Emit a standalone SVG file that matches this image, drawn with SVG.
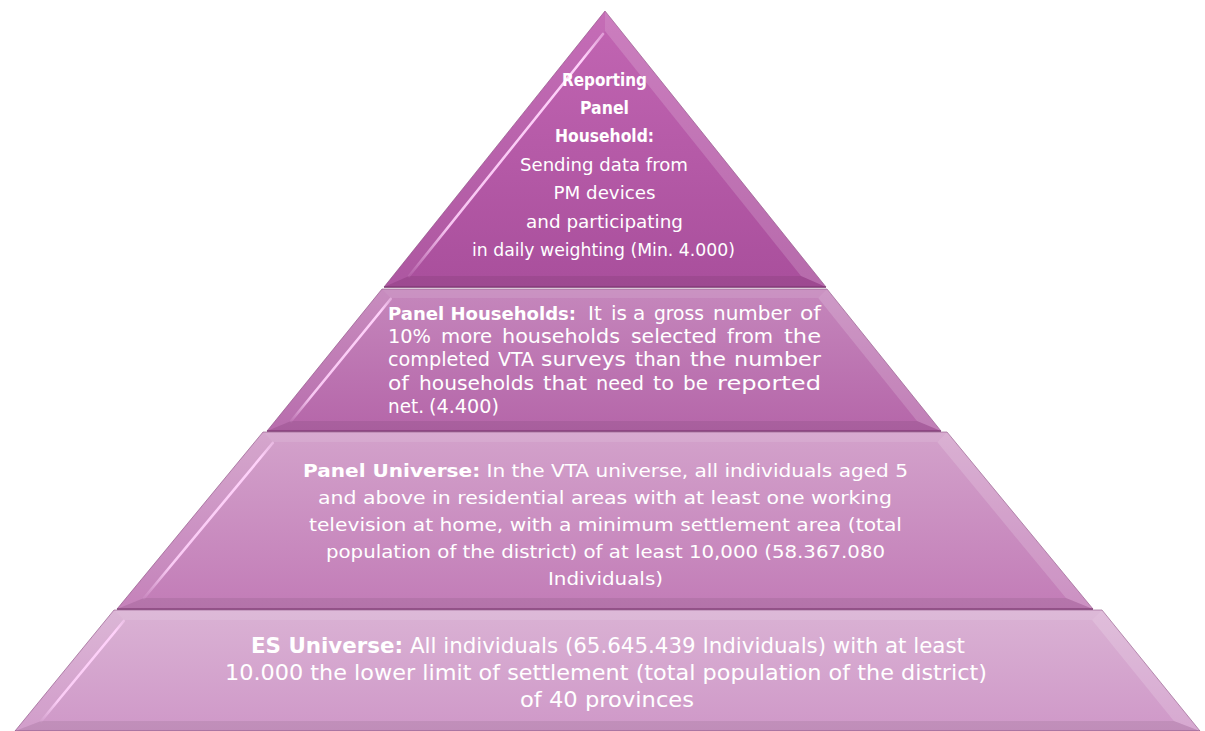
<svg xmlns="http://www.w3.org/2000/svg" width="1205" height="731" viewBox="0 0 1205 731">
  <style>
    .face { stroke: #7d3a73; stroke-opacity: 0.55; stroke-width: 1; stroke-linejoin: round; }
    .f-left { fill: #ffffff; fill-opacity: 0.05; }
    .f-right { fill: #ffffff; fill-opacity: 0.16; }
    .f-top { fill: #ffffff; fill-opacity: 0.10; }
    .f-bottom { fill: #000000; fill-opacity: 0.07; }
    .hl { stroke: url(#hlGrad); stroke-width: 2.6; stroke-linecap: round; fill: none; }
    .base { stroke: #7a3470; stroke-opacity: 0.7; stroke-width: 1.4; }
    text { font-family: "DejaVu Sans", "Liberation Sans", sans-serif; fill: #ffffff; }
    .b { font-weight: bold; }
    .t1 { font-size: 18.5px; }
    .t2 { font-size: 20px; }
    .t2b { font-size: 18px; }
    .t3 { font-size: 18.5px; }
    .t4 { font-size: 20.5px; }
  </style>
  <defs>
    <linearGradient id="g1" x1="0" y1="0" x2="0" y2="1">
      <stop offset="0" stop-color="#c266b3"/>
      <stop offset="1" stop-color="#a94f9c"/>
    </linearGradient>
    <linearGradient id="g2" x1="0" y1="0" x2="0" y2="1">
      <stop offset="0" stop-color="#c587bc"/>
      <stop offset="1" stop-color="#b566a9"/>
    </linearGradient>
    <linearGradient id="g3" x1="0" y1="0" x2="0" y2="1">
      <stop offset="0" stop-color="#d3a2cb"/>
      <stop offset="1" stop-color="#c27cb7"/>
    </linearGradient>
    <linearGradient id="g4" x1="0" y1="0" x2="0" y2="1">
      <stop offset="0" stop-color="#dab2d4"/>
      <stop offset="1" stop-color="#cf98c8"/>
    </linearGradient>
    <!-- glossy streak along the inner left bevel edge -->
    <linearGradient id="hlGrad" x1="0" y1="0" x2="1" y2="0">
      <stop offset="0" stop-color="#ffd2fa" stop-opacity="0.1"/>
      <stop offset="0.2" stop-color="#ffd2fa" stop-opacity="0.9"/>
      <stop offset="0.9" stop-color="#ffd2fa" stop-opacity="1"/>
      <stop offset="1" stop-color="#ffd2fa" stop-opacity="0.5"/>
    </linearGradient>
  </defs>

  <!-- bottom tier -->
  <g id="tier-4">
    <polygon class="face" fill="url(#g4)" points="114,610 1102,610 1200,731 15,731"/>
    <polygon class="f-top" points="114,610 1102,610 1092.1,620 123.8,620"/>
    <polygon class="f-left" points="114,610 123.8,620 41.2,721 15,731"/>
    <polygon class="f-right" points="1102,610 1200,731 1173.9,721 1092.1,620"/>
    <polygon class="f-bottom" points="15,731 41.2,721 1173.9,721 1200,731"/>
    <line class="hl" x1="123.8" y1="621" x2="41.2" y2="721"/>
    <text class="t4" x="608" y="653" text-anchor="middle" textLength="714" lengthAdjust="spacingAndGlyphs"><tspan class="b">ES Universe:</tspan> All individuals (65.645.439 Individuals) with at least</text>
    <text class="t4" x="606" y="680" text-anchor="middle" textLength="762" lengthAdjust="spacingAndGlyphs">10.000 the lower limit of settlement (total population of the district)</text>
    <text class="t4" x="607" y="707" text-anchor="middle" textLength="174" lengthAdjust="spacingAndGlyphs">of 40 provinces</text>
  </g>

  <!-- third tier -->
  <g id="tier-3">
    <polygon class="face" fill="url(#g3)" points="263,432 947,432 1093,609 117,609"/>
    <polygon class="f-top" points="263,432 947,432 937.25,442 272.75,442"/>
    <polygon class="f-left" points="263,432 272.75,442 144.05,598 117,609"/>
    <polygon class="f-right" points="947,432 1093,609 1065.95,598 937.25,442"/>
    <polygon class="f-bottom" points="117,609 144.05,598 1065.95,598 1093,609"/>
    <line class="hl" x1="272.75" y1="443" x2="144.05" y2="598"/>
    <line class="base" x1="117" y1="609.3" x2="1093" y2="609.3"/>
    <text class="t3" x="605.5" y="477" text-anchor="middle" textLength="605" lengthAdjust="spacingAndGlyphs"><tspan class="b">Panel Universe:</tspan> In the VTA universe, all individuals aged 5</text>
    <text class="t3" x="605" y="504" text-anchor="middle" textLength="574" lengthAdjust="spacingAndGlyphs">and above in residential areas with at least one working</text>
    <text class="t3" x="605.5" y="531" text-anchor="middle" textLength="593" lengthAdjust="spacingAndGlyphs">television at home, with a minimum settlement area (total</text>
    <text class="t3" x="605.5" y="558" text-anchor="middle" textLength="559" lengthAdjust="spacingAndGlyphs">population of the district) of at least 10,000 (58.367.080</text>
    <text class="t3" x="605.5" y="585" text-anchor="middle" textLength="115" lengthAdjust="spacingAndGlyphs">Individuals)</text>
  </g>

  <!-- second tier -->
  <g id="tier-2">
    <polygon class="face" fill="url(#g2)" points="382,289 827,289 941,431 267,431"/>
    <polygon class="f-top" points="382,289 827,289 818.2,298 390.7,298"/>
    <polygon class="f-left" points="382,289 390.7,298 291.1,421 267,431"/>
    <polygon class="f-right" points="827,289 941,431 917,421 818.2,298"/>
    <polygon class="f-bottom" points="267,431 291.1,421 917,421 941,431"/>
    <line class="hl" x1="390.7" y1="299" x2="291.1" y2="421"/>
    <line class="base" x1="267" y1="431.3" x2="941" y2="431.3"/>
    <!-- justified paragraph: one word per tspan -->
    <text class="t2" y="320"><tspan class="b t2b" x="388" textLength="188" lengthAdjust="spacingAndGlyphs">Panel Households:</tspan> <tspan x="588">It</tspan> <tspan x="611">is</tspan> <tspan x="633">a</tspan> <tspan x="654" textLength="50" lengthAdjust="spacingAndGlyphs">gross</tspan> <tspan x="713" textLength="78" lengthAdjust="spacingAndGlyphs">number</tspan> <tspan x="800" textLength="21" lengthAdjust="spacingAndGlyphs">of</tspan></text>
    <text class="t2" y="343"><tspan x="388" textLength="43" lengthAdjust="spacingAndGlyphs">10%</tspan> <tspan x="441" textLength="51" lengthAdjust="spacingAndGlyphs">more</tspan> <tspan x="502" textLength="118" lengthAdjust="spacingAndGlyphs">households</tspan> <tspan x="631" textLength="86" lengthAdjust="spacingAndGlyphs">selected</tspan> <tspan x="727" textLength="46" lengthAdjust="spacingAndGlyphs">from</tspan> <tspan x="784" textLength="37" lengthAdjust="spacingAndGlyphs">the</tspan></text>
    <text class="t2" y="366"><tspan x="388" textLength="102" lengthAdjust="spacingAndGlyphs">completed</tspan> <tspan x="498" textLength="36" lengthAdjust="spacingAndGlyphs">VTA</tspan> <tspan x="541" textLength="85" lengthAdjust="spacingAndGlyphs">surveys</tspan> <tspan x="635" textLength="46" lengthAdjust="spacingAndGlyphs">than</tspan> <tspan x="690" textLength="36" lengthAdjust="spacingAndGlyphs">the</tspan> <tspan x="734" textLength="87" lengthAdjust="spacingAndGlyphs">number</tspan></text>
    <text class="t2" y="390"><tspan x="388" textLength="21" lengthAdjust="spacingAndGlyphs">of</tspan> <tspan x="419" textLength="115" lengthAdjust="spacingAndGlyphs">households</tspan> <tspan x="543" textLength="44" lengthAdjust="spacingAndGlyphs">that</tspan> <tspan x="596" textLength="48" lengthAdjust="spacingAndGlyphs">need</tspan> <tspan x="653" textLength="21" lengthAdjust="spacingAndGlyphs">to</tspan> <tspan x="683" textLength="25" lengthAdjust="spacingAndGlyphs">be</tspan> <tspan x="717" textLength="104" lengthAdjust="spacingAndGlyphs">reported</tspan></text>
    <text class="t2" y="413"><tspan x="388" textLength="36" lengthAdjust="spacingAndGlyphs">net.</tspan> <tspan x="429" textLength="70" lengthAdjust="spacingAndGlyphs">(4.400)</tspan></text>
  </g>

  <!-- apex tier -->
  <g id="tier-1">
    <polygon class="face" fill="url(#g1)" points="605,11 826,287 384,287"/>
    <polygon class="f-left" points="605,11 605,31 409,276 384,287"/>
    <polygon class="f-right" points="605,11 826,287 801,276 605,31"/>
    <polygon class="f-bottom" points="384,287 409,276 801,276 826,287"/>
    <line class="hl" x1="603" y1="34" x2="409" y2="276"/>
    <line class="base" x1="384" y1="287.3" x2="826" y2="287.3"/>
    <text class="t1 b" x="604.5" y="86" text-anchor="middle" textLength="85" lengthAdjust="spacingAndGlyphs">Reporting</text>
    <text class="t1 b" x="604.5" y="114" text-anchor="middle" textLength="49" lengthAdjust="spacingAndGlyphs">Panel</text>
    <text class="t1 b" x="604.5" y="142" text-anchor="middle" textLength="99" lengthAdjust="spacingAndGlyphs">Household:</text>
    <text class="t1" x="604" y="171" text-anchor="middle" textLength="168" lengthAdjust="spacingAndGlyphs">Sending data from</text>
    <text class="t1" x="604.5" y="199" text-anchor="middle" textLength="102" lengthAdjust="spacingAndGlyphs">PM devices</text>
    <text class="t1" x="604.5" y="228" text-anchor="middle" textLength="157" lengthAdjust="spacingAndGlyphs">and participating</text>
    <text class="t1" x="603.5" y="256" text-anchor="middle" textLength="263" lengthAdjust="spacingAndGlyphs">in daily weighting (Min. 4.000)</text>
  </g>
</svg>
